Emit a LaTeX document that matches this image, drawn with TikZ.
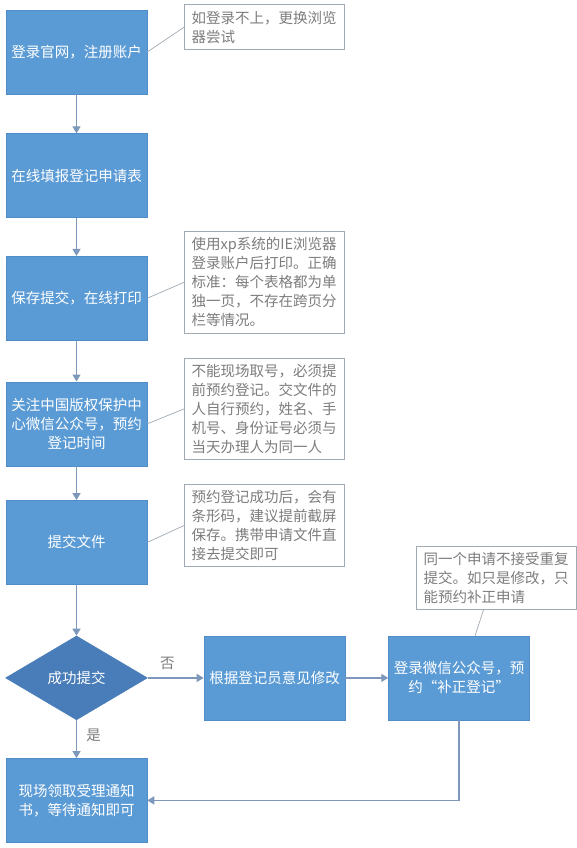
\documentclass[tikz,border=0pt]{standalone}
\usepackage{fontspec}
\setmainfont{Noto Sans CJK SC}
\usetikzlibrary{positioning}
\usetikzlibrary{shapes.geometric}
\usetikzlibrary{arrows.meta}
\definecolor{boxblue}{RGB}{91,155,213}
\definecolor{boxedge}{RGB}{79,140,200}
\definecolor{diablue}{RGB}{72,125,185}
\definecolor{flowline}{RGB}{125,152,186}
\definecolor{notegray}{RGB}{125,125,125}
\definecolor{noteedge}{RGB}{160,170,180}
\begin{document}
\begin{tikzpicture}[font=\fontsize{14.5pt}{19pt}\selectfont,
    stepbox/.style={rectangle,fill=boxblue,draw=boxedge,line width=0.6pt,text=white,align=center,minimum width=141pt,minimum height=84pt,inner sep=2pt},
    checkbox/.style={diamond,fill=diablue,draw=diablue,text=white,aspect=1.7,minimum width=142pt,minimum height=84pt,inner sep=0pt},
    notebox/.style={rectangle,draw=noteedge,line width=0.7pt,text=notegray,align=left,text width=146pt,inner xsep=7pt,inner ysep=6pt},
    flow/.style={draw=flowline,line width=1.3pt,-{Triangle[length=7pt,width=8pt]}},
    noteline/.style={draw=noteedge,line width=0.7pt}]
    \path[use as bounding box,fill=white] (0,0) rectangle (577pt,-848pt);
    % main column
    \node[stepbox] (login) at (76.5pt,-52pt) {登录官网，注册账户};
    \node[stepbox,below=39pt of login] (fillin) {在线填报登记申请表};
    \node[stepbox,below=38pt of fillin] (print) {保存提交，在线打印};
    \node[stepbox,below=41pt of print] (follow) {关注中国版权保护中\\心微信公众号，预约\\登记时间};
    \node[stepbox,below=34pt of follow] (submit) {提交文件};
    \node[checkbox,below=51pt of submit] (check) {成功提交};
    \node[stepbox,below=38pt of check] (receive) {现场领取受理通知\\书，等待通知即可};
    \node[stepbox,right=56pt of check] (revise) {根据登记员意见修改};
    \node[stepbox,right=43pt of revise] (amend) {登录微信公众号，预\\约“补正登记”};
    % notes
    \node[notebox,right=37pt of login,yshift=25pt] (note1) {如登录不上，更换浏览\\器尝试};
    \node[notebox,right=37pt of print,yshift=16pt] (note2) {使用xp系统的IE浏览器\\登录账户后打印。正确\\标准：每个表格都为单\\独一页，不存在跨页分\\栏等情况。};
    \node[notebox,right=37pt of follow,yshift=15pt] (note3) {不能现场取号，必须提\\前预约登记。交文件的\\人自行预约，姓名、手\\机号、身份证号必须与\\当天办理人为同一人};
    \node[notebox,right=37pt of submit,yshift=17pt] (note4) {预约登记成功后，会有\\条形码，建议提前截屏\\保存。携带申请文件直\\接去提交即可};
    \node[notebox,above=26pt of amend,xshift=37.5pt] (note5) {同一个申请不接受重复\\提交。如只是修改，只\\能预约补正申请};
    % connectors
    \draw[flow] (login) -- (fillin);
    \draw[flow] (fillin) -- (print);
    \draw[flow] (print) -- (follow);
    \draw[flow] (follow) -- (submit);
    \draw[flow] (submit) -- (check);
    \draw[flow] (check) -- node[pos=0.4,right=6pt,text=notegray] (yes) {是} (receive);
    \draw[flow] (check) -- node[pos=0.35,above=4pt,text=notegray] (no) {否} (revise);
    \draw[flow] (revise) -- (amend);
    \draw[flow] (amend.south) |- (receive.east);
    \draw[noteline] (login.east) -- (note1.west);
    \draw[noteline] (print.east) -- (note2.west);
    \draw[noteline] (follow.east) -- (note3.west);
    \draw[noteline] (submit.east) -- (note4.west);
    \draw[noteline] ([xshift=-13pt]note5.south) -- ([xshift=16pt]amend.north);
\end{tikzpicture}
\end{document}
